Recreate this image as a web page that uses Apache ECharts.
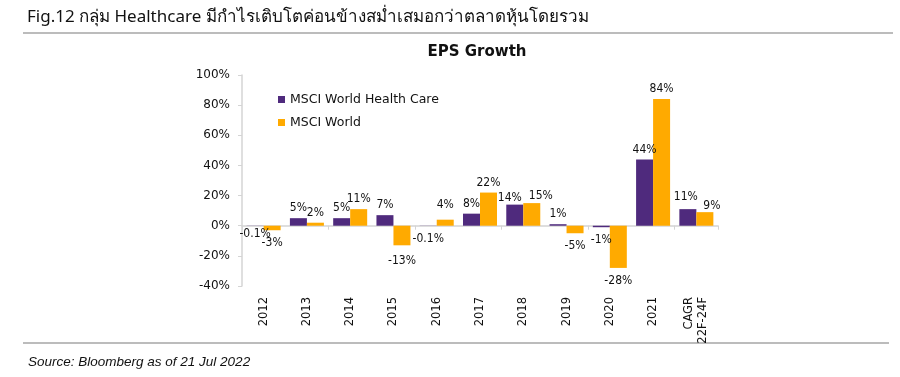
<!DOCTYPE html>
<html>
<head>
<meta charset="utf-8">
<script src="https://cdn.jsdelivr.net/npm/echarts@6/dist/echarts.min.js"></script>
<style>
  html, body { margin: 0; padding: 0; background: #fff; }
  #chart { width: 900px; height: 377px; }
</style>
</head>
<body>
<div id="chart"></div>
<script>
// categories and values
var categories = ["2012", "2013", "2014", "2015", "2016", "2017", "2018", "2019", "2020", "2021", "CAGR\n22F-24F"];
var healthCare = [-0.1, 5, 5, 7, -0.1, 8, 14, 1, -1, 44, 11];
var msciWorld = [-3, 2, 11, -13, 4, 22, 15, -5, -28, 84, 9];
var hcLabels = ["-0.1%", "5%", "5%", "7%", "-0.1%", "8%", "14%", "1%", "-1%", "44%", "11%"];
var worldLabels = ["-3%", "2%", "11%", "-13%", "4%", "22%", "15%", "-5%", "-28%", "84%", "9%"];

// small label nudges (index -> [dx, dy]) so the labels sit like the original
var hcNudge = { 0: [0, -5], 6: [-5, 3], 10: [-2, -2] };
var worldNudge = { 3: [0, 3], 4: [0, -5], 6: [9, 3], 10: [7, 4] };

var font = "DejaVu Sans";
var labelFont = "DejaVu Sans Condensed, DejaVu Sans";

// negative bars get their label underneath
function toItems(values, labels, nudge) {
  return values.map(function (v, i) {
    return {
      value: v,
      label: {
        position: v < 0 ? "bottom" : "top",
        distance: v < 0 ? 7 : 4,
        offset: nudge[i] || [0, 0],
        formatter: labels[i]
      }
    };
  });
}

var myChart = echarts.init(document.getElementById("chart"));
var option = {
  animation: false,
  title: [
    {
      text: "Fig.12 กลุ่ม Healthcare มีกำไรเติบโตค่อนข้างสม่ำเสมอกว่าตลาดหุ้นโดยรวม",
      left: 22,
      top: 4,
      textStyle: { fontSize: 17, fontWeight: "normal", color: "#111", fontFamily: "Noto Sans, sans-serif" }
    },
    {
      text: "EPS Growth",
      left: 472,
      textAlign: "center",
      top: 40,
      textStyle: { fontSize: 15, fontWeight: "bold", color: "#111", fontFamily: font }
    },
    {
      text: "Source: Bloomberg as of 21 Jul 2022",
      left: 23,
      top: 350,
      textStyle: { fontSize: 13.5, fontWeight: "normal", fontStyle: "italic", color: "#111", fontFamily: "Liberation Sans" }
    }
  ],
  graphic: [
    { type: "line", shape: { x1: 23, y1: 33, x2: 893, y2: 33 }, style: { stroke: "#a6a6a6", lineWidth: 1.5 } },
    { type: "line", shape: { x1: 23, y1: 343, x2: 889, y2: 343 }, style: { stroke: "#a6a6a6", lineWidth: 1.5 } }
  ],
  legend: {
    orient: "vertical",
    left: 273,
    top: 88,
    itemWidth: 7,
    itemHeight: 7,
    itemGap: 10,
    icon: "rect",
    textStyle: { fontSize: 12.5, color: "#111", fontFamily: font },
    data: ["MSCI World Health Care", "MSCI World"]
  },
  grid: { left: 242, right: 182, top: 75, bottom: 91 },
  xAxis: [
    {
      type: "category",
      data: categories,
      axisLine: { onZero: true, lineStyle: { color: "#d4d4d4", width: 1.5 } },
      axisTick: { show: true, length: 4, lineStyle: { color: "#d4d4d4" } },
      axisLabel: { show: false }
    },
    {
      type: "category",
      data: categories,
      position: "bottom",
      axisLine: { show: false, onZero: false },
      axisTick: { show: false },
      axisLabel: {
        rotate: 90,
        margin: 11,
        interval: 0,
        fontSize: 11.5,
        lineHeight: 14,
        color: "#111",
        fontFamily: font
      }
    }
  ],
  yAxis: {
    type: "value",
    min: -40,
    max: 100,
    interval: 20,
    splitLine: { show: false },
    axisLine: { show: true, lineStyle: { color: "#d4d4d4", width: 1.5 } },
    axisTick: { show: true, length: 4, lineStyle: { color: "#d4d4d4" } },
    axisLabel: {
      formatter: "{value}%",
      fontSize: 12,
      margin: 12,
      color: "#111",
      fontFamily: font
    }
  },
  series: [
    {
      name: "MSCI World Health Care",
      type: "bar",
      xAxisIndex: 0,
      barWidth: 17,
      barGap: 0,
      itemStyle: { color: "#4f2a7d" },
      label: { show: true, fontSize: 12, color: "#111", fontFamily: labelFont },
      data: toItems(healthCare, hcLabels, hcNudge)
    },
    {
      name: "MSCI World",
      type: "bar",
      xAxisIndex: 0,
      barWidth: 17,
      barGap: 0,
      itemStyle: { color: "#ffaa00" },
      label: { show: true, fontSize: 12, color: "#111", fontFamily: labelFont },
      data: toItems(msciWorld, worldLabels, worldNudge)
    }
  ]
};
myChart.setOption(option);
</script>
</body>
</html>
